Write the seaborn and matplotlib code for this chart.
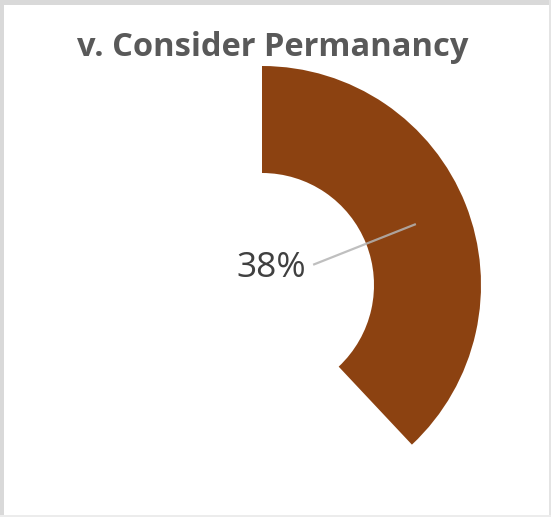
import numpy as np
import matplotlib
matplotlib.use("Agg")
import matplotlib.pyplot as plt
from matplotlib.patches import Rectangle
import seaborn as sns

# Data
title = "v. Consider Permanancy"
categories = ["Consider Permanancy", "Other"]
shares = [38, 62]
colors = ["#8C4211", "none"]

sns.set_theme(style="white")
plt.rcParams["font.family"] = ["Open Sans", "DejaVu Sans"]

W, H = 551, 517
fig = plt.figure(figsize=(W / 100, H / 100), dpi=100)
ax = fig.add_axes([0, 0, 1, 1])

# Donut ring, drawn in pixel-like data units
cx, cy = 262, H - 285
r_out, ring = 219, 107
wedges, _ = ax.pie(
    shares, colors=colors, startangle=90, counterclock=False,
    center=(cx, cy), radius=r_out, frame=True,
    wedgeprops=dict(width=ring, linewidth=0),
)
ax.set_xlim(0, W)
ax.set_ylim(0, H)
ax.set_aspect("equal")
ax.axis("off")

# Leader line and data label for the visible slice
total = sum(shares)
mid = np.deg2rad(90 - 360 * shares[0] / total / 2)
r_mid = r_out - ring / 2
r_in_line = 55
ax.plot([cx + r_in_line * np.cos(mid), cx + r_mid * np.cos(mid)],
        [cy + r_in_line * np.sin(mid), cy + r_mid * np.sin(mid)],
        color="#b4b4b4", lw=1.6, alpha=0.85, solid_capstyle="butt")
ax.text(cx + r_in_line * np.cos(mid) - 7, cy + r_in_line * np.sin(mid) - 3,
        f"{shares[0]}%", ha="right", va="center", fontsize=25.5,
        color="#404040", fontweight="normal")

# Title
fig.text(273 / W, 1 - 47 / H, title, ha="center", va="center",
         fontsize=23.5, fontweight="bold", color="#595959")

# Frame around the card
for (x, y, w, h, c) in [(0, H - 5, W, 5, "#d9d9d9"), (0, 0, 4, H, "#d9d9d9"),
                        (W - 2, 0, 2, H, "#e4e4e4"), (0, 0, W, 2, "#ececec")]:
    fig.patches.append(Rectangle((x / W, y / H), w / W, h / H,
                                 transform=fig.transFigure, color=c, lw=0))

fig.savefig("out.png", dpi=100, facecolor="white")
